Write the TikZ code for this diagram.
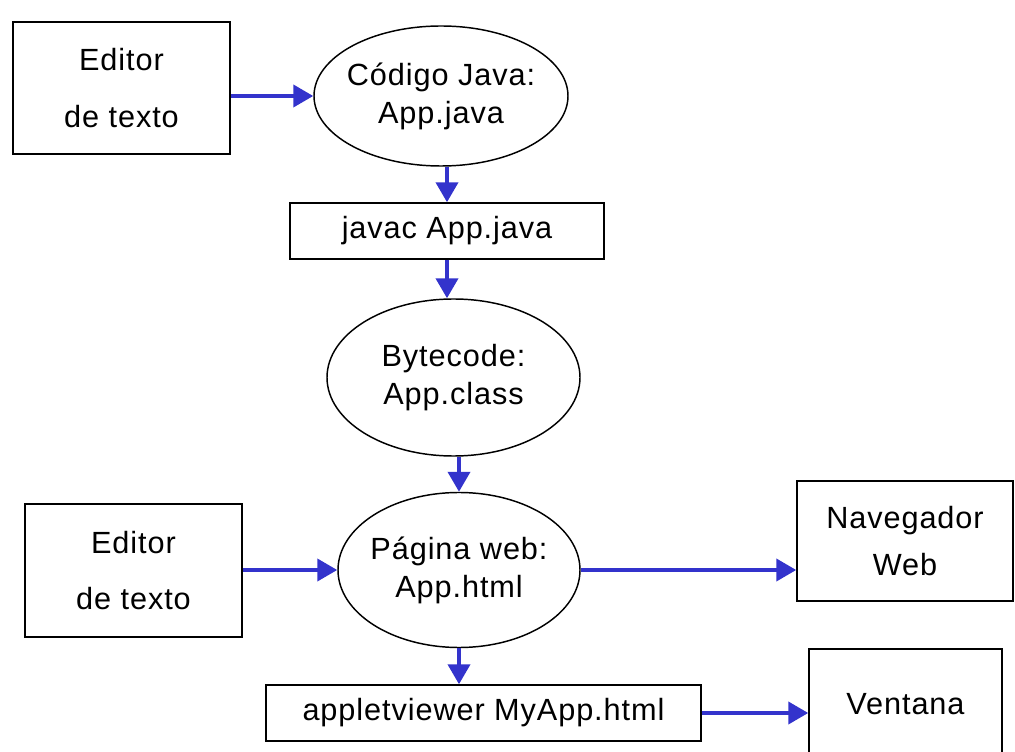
\documentclass[tikz,border=0pt]{standalone}
\usepackage{fontspec}
\setmainfont{Liberation Sans}[LetterSpace=3]
\usetikzlibrary{arrows.meta,shapes.geometric}
\definecolor{arrblue}{RGB}{51,51,204}
\tikzset{
  boxnode/.style={draw=black, line width=1.1pt, rectangle, inner sep=0pt, align=center,
    font=\fontsize{23}{28.5}\selectfont},
  ellnode/.style={draw=black, line width=1.1pt, ellipse, inner sep=-20pt, align=center,
    font=\fontsize{23}{28.5}\selectfont},
  flow/.style={draw=arrblue, line width=3pt, -{Triangle[length=15pt,width=16.5pt]}},
}
\begin{document}
\begin{tikzpicture}[x=0.75pt,y=-0.75pt]
\useasboundingbox (0,0) rectangle (1015,752);
\node[boxnode, minimum width=162.75pt, minimum height=99pt] (b1) at (121.5,88) {Editor\\[14pt]de texto};
\node[ellnode, minimum width=190.5pt, minimum height=105pt] (e1) at (441,96) {Código Java:\\App.java};
\node[boxnode, minimum width=235.5pt, minimum height=42pt] (javac) at (447,231) {javac App.java};
\node[ellnode, minimum width=189.75pt, minimum height=117.75pt] (e2) at (453.5,377.5) {Bytecode:\\App.class};
\node[ellnode, minimum width=181.5pt, minimum height=116.25pt] (e3) at (459,570) {Página web:\\App.html};
\node[boxnode, minimum width=162.75pt, minimum height=99.75pt] (b2) at (133.5,570.5) {Editor\\[14pt]de texto};
\node[boxnode, minimum width=162pt, minimum height=90pt] (nav) at (905,541) {Navegador\\[6.75pt]Web};
\node[boxnode, minimum width=326.25pt, minimum height=42pt] (applet) at (483.5,713) {appletviewer MyApp.html};
\node[boxnode, minimum width=144.75pt, minimum height=83.25pt] (vent) at (905.5,704.5) {Ventana};

\draw[flow] (b1.east |- e1.west) -- (e1.west);
\draw[flow] (e1.south -| javac.north) -- (javac.north);
\draw[flow] (javac.south) -- (javac.south |- e2.north);
\draw[flow] (e3.north |- e2.south) -- (e3.north);
\draw[flow] (b2.east |- e3.west) -- (e3.west);
\draw[flow] (e3.east) -- (e3.east -| nav.west);
\draw[flow] (e3.south) -- (e3.south |- applet.north);
\draw[flow] (applet.east) -- (applet.east -| vent.west);
\end{tikzpicture}
\end{document}
